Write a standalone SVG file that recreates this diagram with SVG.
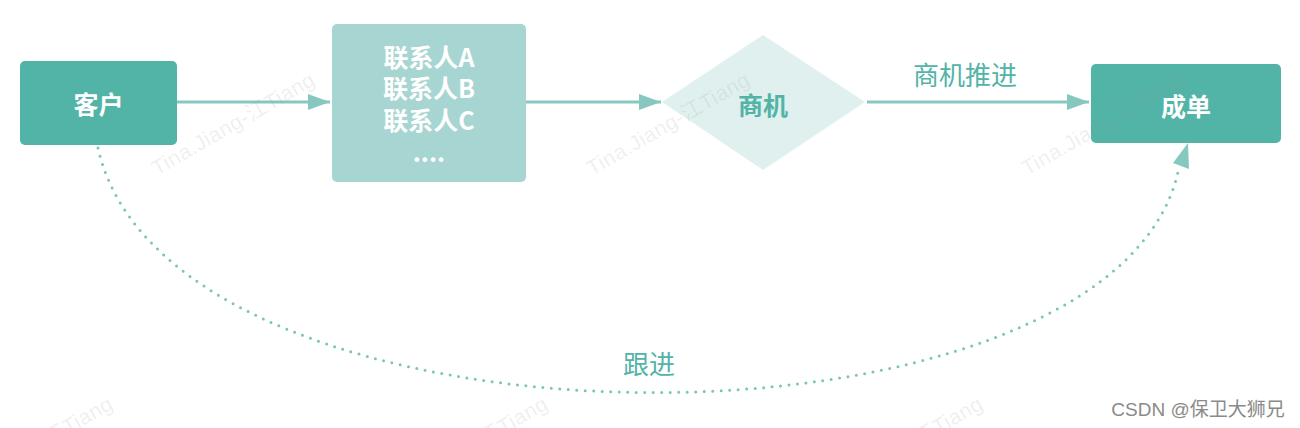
<svg xmlns="http://www.w3.org/2000/svg" width="1300" height="428" viewBox="0 0 1300 428">
<style>
.box{fill:#52b3a7;}
.t{font-family:"Noto Sans CJK SC","Liberation Sans",sans-serif;font-weight:bold;font-size:25px;fill:#fff;text-anchor:middle;}
.lbl{font-family:"Noto Sans CJK SC","Liberation Sans",sans-serif;font-size:26px;fill:#52b3a7;text-anchor:middle;}
.wm{font-family:"Liberation Sans","Noto Sans CJK SC",sans-serif;font-size:21px;letter-spacing:0.5px;fill:#9a9a9a;fill-opacity:0.16;}
.line{stroke:#86c8bf;stroke-width:3;fill:none;}
.dot{stroke:#7cc4ba;stroke-width:3;fill:none;stroke-dasharray:0 8.5;stroke-linecap:round;}
</style>
<defs>
<marker id="ah2" markerWidth="22" markerHeight="16" refX="22" refY="8" orient="auto" markerUnits="userSpaceOnUse" viewBox="0 0 22 16">
<path d="M0,0 L22,8 L0,16 Z" fill="#86c8bf"/>
</marker>
</defs>
<rect width="1300" height="428" fill="#fff"/>
<g id="connectors">
<line class="line" x1="177" y1="102" x2="330" y2="102" marker-end="url(#ah2)"/>
<line class="line" x1="526" y1="102" x2="661" y2="102" marker-end="url(#ah2)"/>
<line class="line" x1="867" y1="102" x2="1089" y2="102" marker-end="url(#ah2)"/>
<path class="dot" d="M98,148 C170,470 1110,470 1178,172"/>
<path d="M1188,143 L1189,169 L1173,163 Z" fill="#86c8bf"/>
<text class="lbl" x="965" y="85">商机推进</text>
<text class="lbl" x="649" y="374">跟进</text>
</g>
<g id="kehu">
<rect class="box" x="20" y="61" width="157" height="84" rx="5"/>
<text class="t" x="98.5" y="114">客户</text>
</g>
<g id="lianxiren">
<rect x="332" y="24" width="194" height="158" rx="5" fill="#a7d5d1"/>
<text class="t"><tspan x="429" y="67">联系人A</tspan><tspan x="429" y="98">联系人B</tspan><tspan x="429" y="130">联系人C</tspan><tspan x="429" y="162">....</tspan></text>
</g>
<g id="shangji">
<polygon points="662,102 763,35 865,102 763,170" fill="#e0f0ee"/>
<text class="t" x="763" y="115" style="fill:#52b3a7">商机</text>
</g>
<g id="chengdan">
<rect class="box" x="1091" y="64" width="190" height="79" rx="5"/>
<text class="t" x="1186" y="116">成单</text>
</g>
<g id="watermarks">
<text class="wm" transform="translate(157,176) rotate(-30)">Tina.Jiang-江Tiang</text>
<text class="wm" transform="translate(592,176) rotate(-30)">Tina.Jiang-江Tiang</text>
<text class="wm" transform="translate(1027,176) rotate(-30)">Tina.Jiang-江Tiang</text>
<text class="wm" transform="translate(-45,500) rotate(-30)">Tina.Jiang-江Tiang</text>
<text class="wm" transform="translate(390,500) rotate(-30)">Tina.Jiang-江Tiang</text>
<text class="wm" transform="translate(825,500) rotate(-30)">Tina.Jiang-江Tiang</text>
</g>
<text x="1198" y="416" font-family="Liberation Sans,Noto Sans CJK SC,sans-serif" font-size="19" fill="#8a8a8a" text-anchor="middle">CSDN @保卫大狮兄</text>
</svg>
